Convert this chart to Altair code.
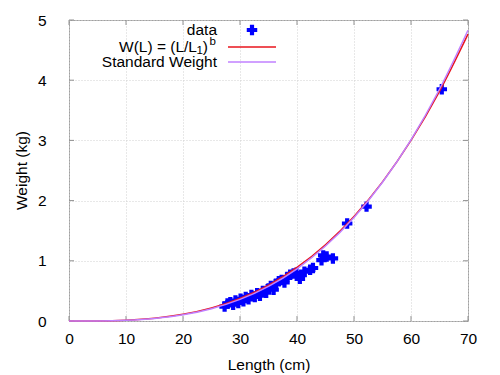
import altair as alt
import pandas as pd

# ---- data ----
length_cm = [27.3, 27.8, 28.3, 28.8, 29.2, 29.7, 30.1, 30.6, 31.0, 31.5, 32.0, 32.6,
             33.0, 33.5, 34.0, 34.6, 35.0, 35.4, 35.9, 36.3, 36.8, 37.3, 37.8, 38.3,
             38.8, 39.4, 39.9, 40.5, 40.8, 41.3, 42.3, 42.8, 44.3, 44.6, 45.2, 46.3,
             48.8, 52.2, 65.4]
weight_kg = [0.24, 0.29, 0.31, 0.27, 0.34, 0.30, 0.37, 0.33, 0.40, 0.36, 0.43, 0.40,
             0.46, 0.42, 0.50, 0.47, 0.54, 0.58, 0.52, 0.62, 0.66, 0.68, 0.64, 0.73,
             0.77, 0.79, 0.80, 0.70, 0.76, 0.82, 0.85, 0.88, 1.01, 1.09, 1.07, 1.04,
             1.62, 1.90, 3.85]

curve_len = [0, 5, 10, 15, 20, 25, 30, 35, 40, 45, 50, 55, 60, 65, 70]
fit_weight = [0, 0.0017, 0.0139, 0.0469, 0.111, 0.217, 0.375, 0.596, 0.889, 1.266,
              1.736, 2.311, 3.000, 3.815, 4.765]
std_weight = [0, 0.0015, 0.0123, 0.0427, 0.103, 0.205, 0.359, 0.576, 0.867, 1.245,
              1.720, 2.305, 3.010, 3.850, 4.830]

x_ticks = [0, 10, 20, 30, 40, 50, 60, 70]
y_ticks = [0, 1, 2, 3, 4, 5]

legend_labels = ["data", "Standard Weight"]
fit_label_parts = ["W(L) = (L/L", "1", ")", "b"]

FONT = "Liberation Sans"
FS = 15.5
W, H = 399, 301
xs = alt.Scale(domain=[0, 70], nice=False)
ys = alt.Scale(domain=[0, 5], nice=False)
x_axis = alt.Axis(values=x_ticks, title="Length (cm)", labelPadding=10, titleY=36,
                  labelFlush=False)
y_axis = alt.Axis(values=y_ticks, title="Weight (kg)", labelPadding=23,
                  titleX=-40, titleY=150, labelFlush=False)


def X(f="L"):
    return alt.X(f"{f}:Q", scale=xs, axis=x_axis)


def Y(f="W"):
    return alt.Y(f"{f}:Q", scale=ys, axis=y_axis)


pts = pd.DataFrame({"L": length_cm, "W": weight_kg})
fit_df = pd.DataFrame({"L": curve_len, "W": fit_weight})
std_df = pd.DataFrame({"L": curve_len, "W": std_weight})

points = alt.Chart(pts).mark_point(shape="cross", filled=True, size=110,
                                   color="#0000ff", opacity=1).encode(x=X(), y=Y())

fit_line = alt.Chart(fit_df).mark_line(color="#e8141c", strokeWidth=1.5,
                                       interpolate="monotone").encode(x=X(), y=Y())
std_line = alt.Chart(std_df).mark_line(color="#c080ff", strokeWidth=1.5,
                                       interpolate="monotone").encode(x=X(), y=Y())

tick_col = "#909090"
xt = pd.DataFrame({"L": x_ticks})
yt = pd.DataFrame({"W": y_ticks})
ticks = [
    alt.Chart(xt).mark_rule(color=tick_col).encode(
        x=X(), y=alt.value(H), y2=alt.value(H - 5)),
    alt.Chart(xt).mark_rule(color=tick_col).encode(
        x=X(), y=alt.value(0), y2=alt.value(5)),
    alt.Chart(yt).mark_rule(color=tick_col).encode(
        y=Y(), x=alt.value(0), x2=alt.value(5)),
    alt.Chart(yt).mark_rule(color=tick_col).encode(
        y=Y(), x=alt.value(W), x2=alt.value(W - 5)),
]


# ---- legend (gnuplot style: right-aligned text, then sample) ----
def ltext(txt, x, y, size=FS):
    return alt.Chart(pd.DataFrame({"t": [txt]})).mark_text(
        align="right", baseline="middle", font=FONT, fontSize=size, color="#000000"
    ).encode(x=alt.value(x), y=alt.value(y), text="t:N")


legend = [
    ltext(legend_labels[0], 148, 10),
    ltext(fit_label_parts[0], 128, 27),
    ltext(fit_label_parts[1], 134, 31, 11.5),
    ltext(fit_label_parts[2], 139, 27),
    ltext(fit_label_parts[3], 147, 22, 11.5),
    ltext(legend_labels[1], 148, 42),
    alt.Chart(pd.DataFrame({"k": ["data"]})).mark_point(
        shape="cross", filled=True, size=110, color="#0000ff", opacity=1
    ).encode(x=alt.value(183), y=alt.value(10)),
    alt.Chart(pd.DataFrame({"k": ["fit"]})).mark_rule(
        color="#e8141c", strokeWidth=1.5
    ).encode(x=alt.value(159), x2=alt.value(207), y=alt.value(27)),
    alt.Chart(pd.DataFrame({"k": ["std"]})).mark_rule(
        color="#c080ff", strokeWidth=1.5
    ).encode(x=alt.value(159), x2=alt.value(207), y=alt.value(42)),
]

chart = alt.layer(points, *ticks, fit_line, std_line, *legend).properties(
    width=W, height=H, autosize="none",
    padding={"left": 69, "top": 20, "right": 32, "bottom": 54},
).configure_view(stroke="#a0a0a0", strokeWidth=1).configure_axis(
    labelFont=FONT, labelFontSize=FS, labelColor="#000000",
    titleFont=FONT, titleFontSize=FS, titleFontWeight="normal", titleColor="#000000",
    gridColor="#d0d0d0", gridDash=[1, 2], domain=False, ticks=False,
)

chart.save("out.html", embed_options={"renderer": "svg", "actions": False})
